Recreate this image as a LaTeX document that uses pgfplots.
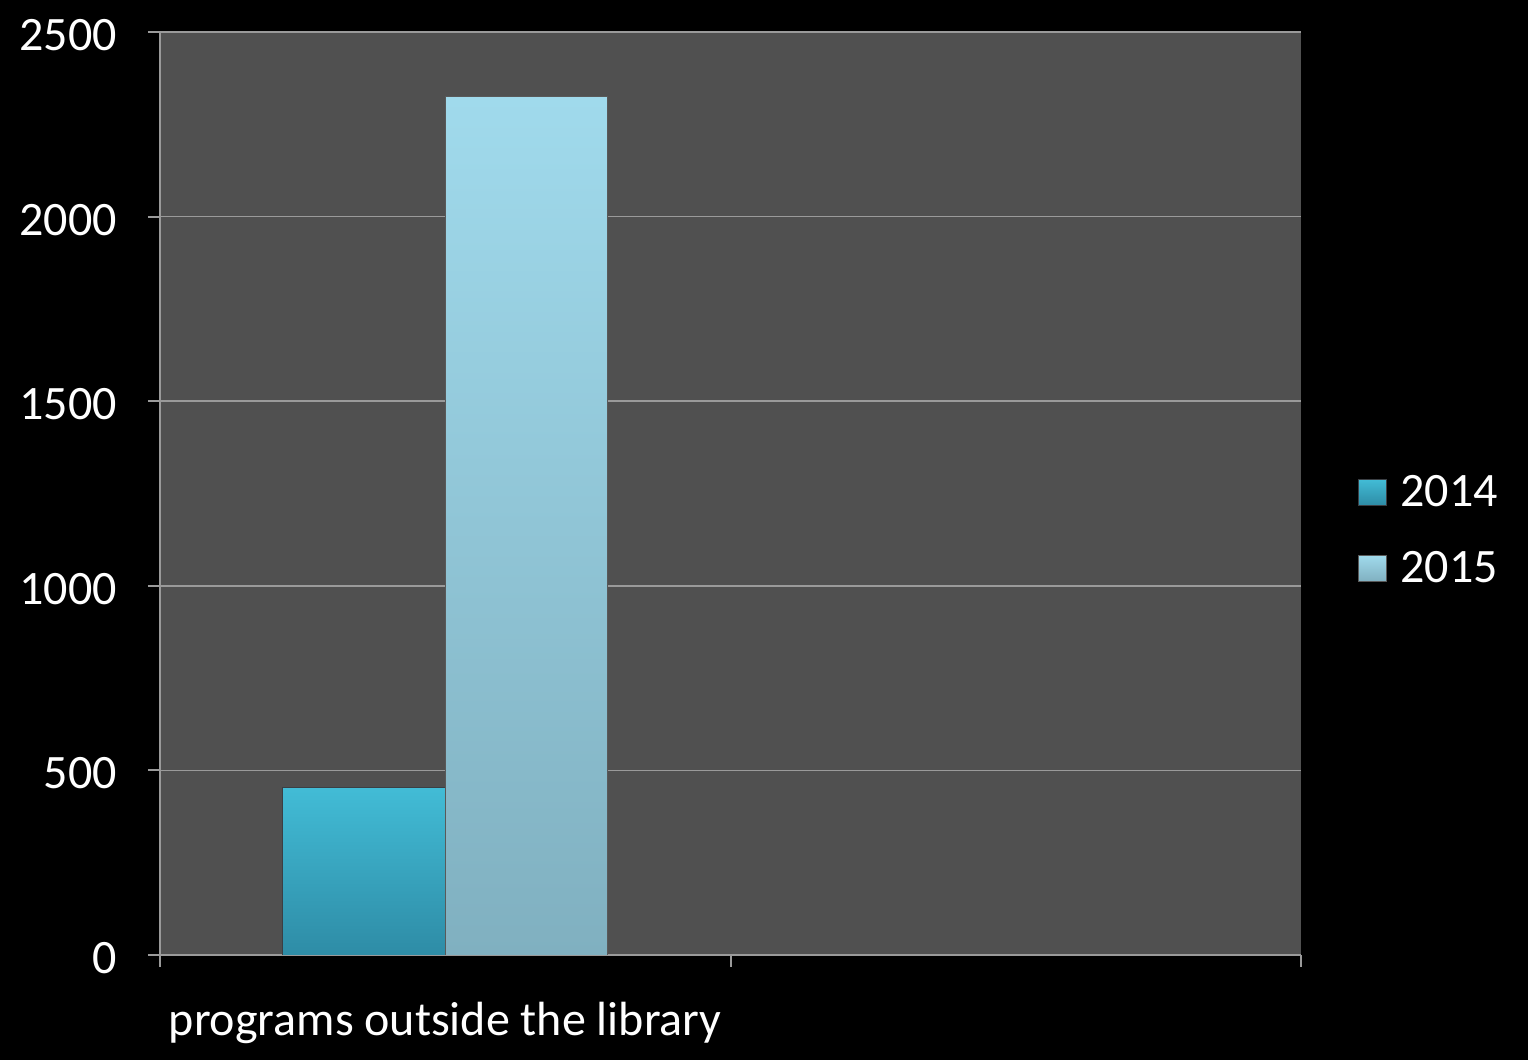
\documentclass[border=0pt]{standalone}
\usepackage{fontspec}
\setmainfont{Carlito}
\usepackage{pgfplots}
\pgfplotsset{compat=1.18}
\definecolor{plotbg}{HTML}{505050}
\definecolor{gridc}{HTML}{9A9A9A}
\begin{document}
\begin{tikzpicture}
\fill[black] (-80pt,-52.5pt) rectangle (684pt,477.5pt);
\begin{axis}[
  at={(0,0)}, anchor=south west,
  scale only axis, width=570.5pt, height=461.5pt,
  xmin=0, xmax=2, ymin=0, ymax=2500,
  axis background/.style={fill=plotbg},
  axis lines=left, axis line style={-, draw=gridc, line width=1pt},
  ytick={0,500,...,2500},
  ymajorgrids, grid style={draw=gridc, line width=0.8pt},
  xtick={0,1,2}, xticklabels={},
  extra x ticks={0.5}, extra x tick labels={programs outside the library},
  extra x tick style={major tick length=0pt, xticklabel style={yshift=-20pt}},
  tick align=outside, major tick length=6pt,
  tick style={draw=gridc, line width=1pt},
  /pgf/number format/assume math mode=true,
  /pgf/number format/1000 sep={},
  ticklabel style={font=\fontsize{24}{29}\selectfont, text=white},
  yticklabel style={xshift=-12pt, yshift=-1.5pt},
  legend style={at={(1.044,0.46)}, anchor=west, draw=none, fill=none,
    text=white, font=\fontsize{24}{29}\selectfont, row sep=17pt, column sep=5pt},
  legend image code/.code={\fill[#1] (0pt,-6.5pt) rectangle (14pt,6.5pt);},
]
\addplot[ybar, bar width=0.285, draw=black!60!cyan!40!black, top color={rgb,255:red,66;green,188;blue,214}, bottom color={rgb,255:red,46;green,140;blue,166}] coordinates {(0.3575,455)};
\addlegendentry{2014}
\addplot[ybar, bar width=0.285, draw=gray!70!black, top color={rgb,255:red,160;green,218;blue,236}, bottom color={rgb,255:red,128;green,176;blue,192}] coordinates {(0.6425,2325)};
\addlegendentry{2015}
\end{axis}
\end{tikzpicture}
\end{document}
